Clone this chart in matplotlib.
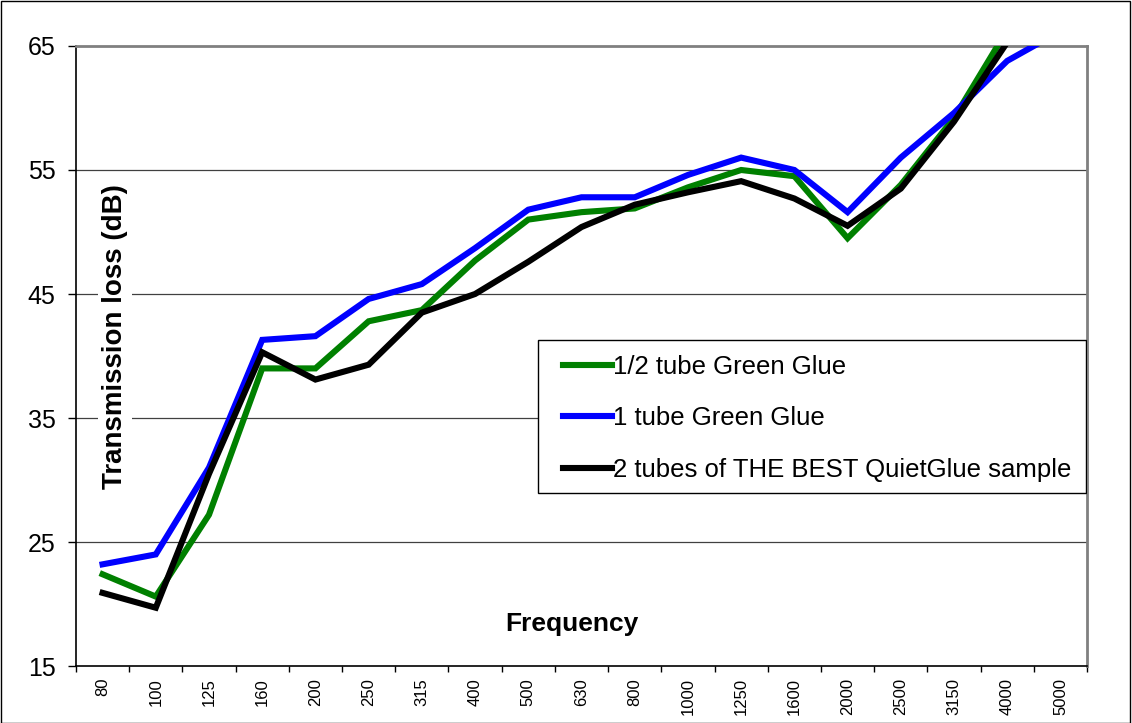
import numpy as np
import matplotlib
matplotlib.use("Agg")
import matplotlib.pyplot as plt
from matplotlib.patches import Rectangle

plt.rcParams['font.family'] = ['Liberation Sans', 'DejaVu Sans']

freqs = ['80', '100', '125', '160', '200', '250', '315', '400', '500', '630',
         '800', '1000', '1250', '1600', '2000', '2500', '3150', '4000', '5000']
half_tube = [22.4, 20.6, 27.2, 39.0, 39.0, 42.8, 43.7, 47.7, 51.0, 51.6,
             51.9, 53.6, 55.0, 54.5, 49.5, 53.8, 59.2, 66.3, 68.0]
one_tube = [23.2, 24.0, 31.0, 41.3, 41.6, 44.6, 45.8, 48.7, 51.8, 52.8,
            52.8, 54.6, 56.0, 55.0, 51.6, 56.0, 59.6, 63.8, 66.2]
best_glue = [20.9, 19.7, 30.5, 40.3, 38.1, 39.3, 43.5, 45.0, 47.6, 50.4,
             52.2, 53.2, 54.1, 52.7, 50.5, 53.5, 58.9, 65.3, 68.0]
y_ticks = [15, 25, 35, 45, 55, 65]

x = np.arange(len(freqs))

fig = plt.figure(figsize=(11.32, 7.23), dpi=100)
ax = fig.add_axes([0.0671, 0.0788, 0.8932, 0.8576])

# grid
for v in y_ticks[1:-1]:
    ax.axhline(v, color='#404040', lw=0.9, zorder=1)

ax.plot(x, half_tube, color='#008000', lw=4.4, solid_joinstyle='miter',
        label='1/2 tube Green Glue', zorder=3)
ax.plot(x, one_tube, color='#0000FF', lw=4.4, solid_joinstyle='miter',
        label='1 tube Green Glue', zorder=3)
ax.plot(x, best_glue, color='black', lw=4.4, solid_joinstyle='miter',
        label='2 tubes of THE BEST QuietGlue sample', zorder=3)

ax.set_xlim(-0.5, len(freqs) - 0.5)
ax.set_ylim(15, 65)
ax.set_yticks(y_ticks)
ax.set_yticklabels([str(v) for v in y_ticks], fontsize=18)
ax.tick_params(axis='y', length=5.8, width=1, direction='out', pad=9)

ax.set_xticks(x)
ax.set_xticklabels(freqs, rotation=90, fontsize=12)
ax.tick_params(axis='x', which='major', length=0, pad=8.5)
ax.set_xticks(np.arange(len(freqs) + 1) - 0.5, minor=True)
ax.tick_params(axis='x', which='minor', length=4.3, width=1, direction='out')

for s in ['top', 'right']:
    ax.spines[s].set_color('#808080')
    ax.spines[s].set_linewidth(2)
for s in ['left', 'bottom']:
    ax.spines[s].set_color('black')
    ax.spines[s].set_linewidth(1.2)

ax.text(0.49, 0.068, 'Frequency', transform=ax.transAxes, ha='center',
        va='center', fontsize=19, fontweight='bold', zorder=4)
ax.text(0.0386, 0.531, 'Transmission loss (dB)', transform=ax.transAxes,
        ha='center', va='center', rotation=90, fontsize=20, fontweight='bold',
        zorder=2, bbox=dict(facecolor='white', edgecolor='none', pad=3))

# legend box drawn separately so the padding can match
ax.add_patch(Rectangle((0.457, 0.279), 0.542, 0.247, transform=ax.transAxes,
                       facecolor='white', edgecolor='black', lw=1, zorder=5))
leg = ax.legend(loc='upper left', bbox_to_anchor=(0.4817, 0.5024),
                fontsize=18.5, handlelength=1.9, handletextpad=0.04,
                labelspacing=1.08, borderpad=0, borderaxespad=0,
                frameon=False)
leg.set_zorder(6)

fig.patches.append(Rectangle((0.001, 0.0), 0.997, 0.998, transform=fig.transFigure,
                             fill=False, edgecolor='black', lw=1))

fig.savefig('out.png', dpi=100)
